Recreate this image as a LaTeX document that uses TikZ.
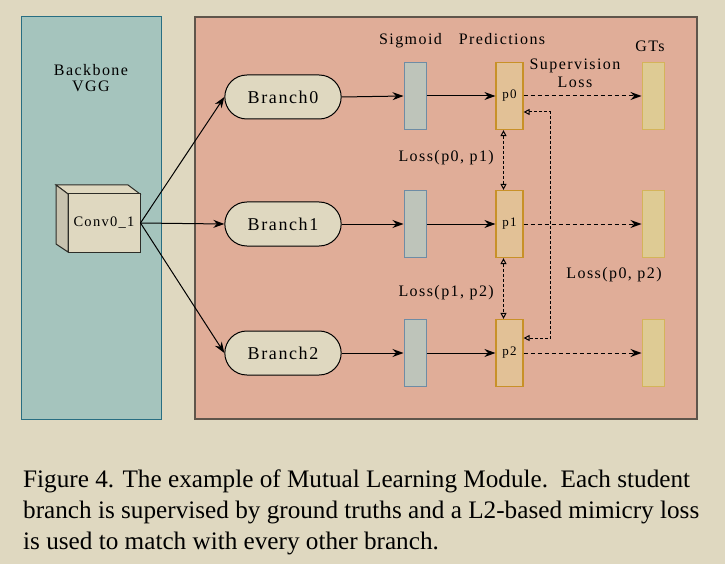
\documentclass[tikz,border=0pt]{standalone}
\usepackage{fontspec}
\setmainfont{Liberation Serif}
\newfontfamily\diagfont[LetterSpace=9]{Liberation Serif}
\usetikzlibrary{arrows.meta,shapes.misc}
\definecolor{bgc}{RGB}{223,216,192}
\definecolor{tealc}{RGB}{165,196,189}
\definecolor{tealb}{RGB}{40,110,130}
\definecolor{salc}{RGB}{224,173,152}
\definecolor{salb}{RGB}{95,85,75}
\definecolor{sigc}{RGB}{190,196,186}
\definecolor{sigb}{RGB}{110,140,165}
\definecolor{predc}{RGB}{226,193,150}
\definecolor{predb}{RGB}{200,145,40}
\definecolor{gtc}{RGB}{222,203,148}
\definecolor{gtb}{RGB}{212,180,90}
\definecolor{cubeside}{RGB}{200,195,175}
\definecolor{edgec}{RGB}{45,45,40}
\tikzset{
  lbl/.style={font=\diagfont\fontsize{16}{18}\selectfont, inner sep=0pt, anchor=base},
  branchbox/.style={rounded rectangle, draw=black, line width=1pt, fill=bgc, minimum width=123pt, minimum height=44pt, font=\diagfont\fontsize{18}{20}\selectfont},
  sigbar/.style={rectangle, draw=sigb, line width=1pt, fill=sigc, minimum width=22pt, minimum height=67pt, inner sep=0pt},
  predbar/.style={rectangle, draw=predb, line width=1.2pt, fill=predc, minimum width=27pt, minimum height=67pt, inner sep=0pt, font=\diagfont\fontsize{13}{15}\selectfont},
  gtbar/.style={rectangle, draw=gtb, line width=1pt, fill=gtc, minimum width=22pt, minimum height=67pt, inner sep=0pt},
  flow/.style={draw=black, line width=1pt, -{Stealth[length=11pt,width=8pt]}},
  suparrow/.style={draw=black, line width=1pt, dash pattern=on 4pt off 3pt, -{Stealth[length=11pt,width=8pt]}},
  mutual/.style={draw=black, line width=1pt, dash pattern=on 3pt off 2pt, {Triangle[open,length=6pt,width=6pt]}-{Triangle[open,length=6pt,width=6pt]}},
  captext/.style={anchor=base west, inner sep=0pt, font=\fontsize{25.2}{31}\selectfont}
}
\begin{document}
\begin{tikzpicture}[x=1pt,y=-1pt]
\fill[bgc] (0,0) rectangle (725,564);
\useasboundingbox (0,0) rectangle (725,564);
% panels
\draw[fill=tealc, draw=tealb, line width=1pt] (21,17) rectangle (161,419);
\draw[fill=salc, draw=salb, line width=1.4pt] (195,17) rectangle (697,419);
\node[lbl] (backbone) at (91,75.5) {Backbone};
\node[lbl] (vgg) at (91,92) {VGG};
% cube
\draw[fill=bgc, draw=edgec, line width=1pt] (56,185) -- (128,185) -- (140,194) -- (68,194) -- cycle;
\draw[fill=cubeside, draw=edgec, line width=1pt] (56,185) -- (68,194) -- (68,252) -- (56,244) -- cycle;
\node[rectangle, draw=edgec, line width=1pt, fill=bgc, minimum width=72pt, minimum height=58pt, inner sep=0pt, font=\diagfont\fontsize{14.5}{16}\selectfont] (conv) at (104,223) {Conv0\_1};
% branches
\node[branchbox] (b0) at (283,97) {Branch0};
\node[branchbox] (b1) at (283,224) {Branch1};
\node[branchbox] (b2) at (283,353) {Branch2};
\draw[flow] (conv.east) -- (b0.west);
\draw[flow] (conv.east) -- (b1.west);
\draw[flow] (conv.east) -- (b2.west);
% sigmoid
\node[sigbar] (s0) at (415,96) {};
\node[sigbar] (s1) at (415,224) {};
\node[sigbar] (s2) at (415,353) {};
% predictions
\node[predbar] (p0) at (509.5,96) {p0};
\node[predbar] (p1) at (509.5,224) {p1};
\node[predbar] (p2) at (509.5,353) {p2};
% GTs
\node[gtbar] (g0) at (653,96) {};
\node[gtbar] (g1) at (653,224) {};
\node[gtbar] (g2) at (653,353) {};
\foreach \i in {0,1,2}{
  \draw[flow] (b\i.east) -- (s\i.west);
  \draw[flow] (s\i.east) -- (p\i.west);
  \draw[suparrow] (p\i.east) -- (g\i.west);
}
% labels
\node[lbl] (lsig) at (410.5,45) {Sigmoid};
\node[lbl] (lpred) at (502,45) {Predictions};
\node[lbl] (lgt) at (650,52) {GTs};
\node[lbl] (lsup1) at (575,70) {Supervision};
\node[lbl] (lsup2) at (575,88) {Loss};
\node[lbl, anchor=base east] (l01) at (494,162) {Loss(p0, p1)};
\node[lbl, anchor=base east] (l12) at (494,296) {Loss(p1, p2)};
\node[lbl] (l02) at (614,278) {Loss(p0, p2)};
% mutual
\draw[mutual] ([xshift=-6pt]p0.south) -- ([xshift=-6pt]p1.north);
\draw[mutual] ([xshift=-6pt]p1.south) -- ([xshift=-6pt]p2.north);
\draw[mutual] ([yshift=-16pt]p0.east) -- ++(27,0) |- ([yshift=15pt]p2.east);
% caption
\node[captext] (cap1) at (23,487) {Figure 4. The example of Mutual Learning Module.\ \ Each student};
\node[captext] (cap2) at (23,518) {branch is supervised by ground truths and a L2-based mimicry loss};
\node[captext] (cap3) at (23,549) {is used to match with every other branch.};
\end{tikzpicture}
\end{document}
